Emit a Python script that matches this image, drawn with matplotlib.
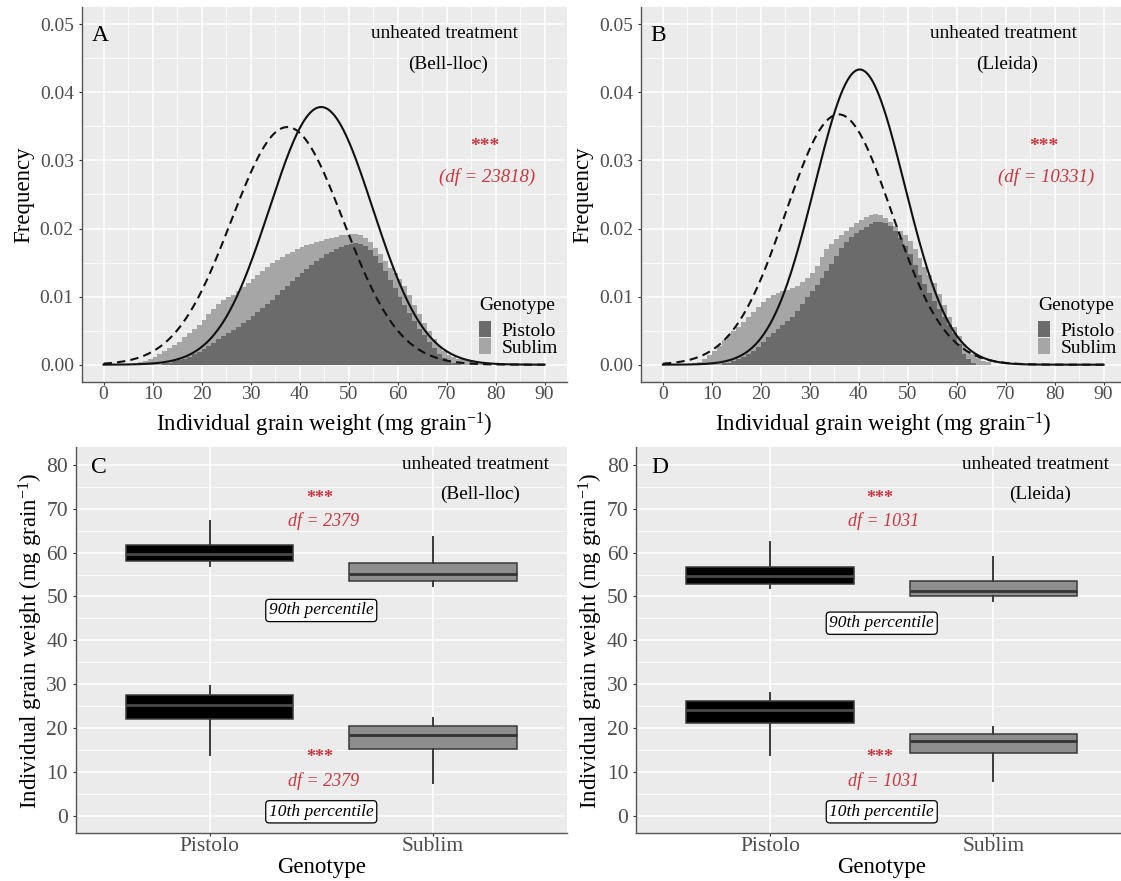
import numpy as np
import matplotlib.pyplot as plt
from matplotlib.patches import Patch

plt.rcParams['font.family'] = ['Liberation Serif', 'DejaVu Serif']
plt.rcParams['mathtext.fontset'] = 'custom'
plt.rcParams['mathtext.rm'] = 'Liberation Serif'
plt.rcParams['mathtext.it'] = 'Liberation Serif:italic'

# ---- grain weight histograms (1 mg bins, left edges 0..79) ----
bin_edges = list(range(80))

bell_pistolo = [
    0, 0, 0, 0, 0, 0, 0, 0, 0, 0,
    0, 0, .0002, .0003, .0005, .0007, .0009, .0012, .0015, .0019,
    .0023, .0027, .0032, .0037, .0042, .0047, .0051, .0056, .0061, .0066,
    .0071, .0077, .0083, .0089, .0095, .0102, .0109, .0116, .0123, .0129,
    .0135, .0140, .0146, .0152, .0157, .0162, .0166, .0170, .0173, .0176,
    .0178, .0179, .0178, .0174, .0168, .0160, .0150, .0138, .0125, .0112,
    .0100, .0088, .0076, .0064, .0053, .0043, .0033, .0024, .0016, .0010,
    .0006, .0003, .0002, 0, 0, 0, 0, 0, 0, 0]
bell_sublim = [
    0, 0, 0, 0, 0, 0, .0002, .0004, .0006, .0009,
    .0012, .0016, .0020, .0024, .0029, .0034, .0040, .0046, .0052, .0059,
    .0066, .0074, .0082, .0089, .0095, .0099, .0103, .0108, .0114, .0120,
    .0126, .0132, .0137, .0143, .0149, .0154, .0158, .0162, .0166, .0170,
    .0173, .0176, .0178, .0180, .0182, .0184, .0186, .0188, .0190, .0191,
    .0192, .0192, .0190, .0186, .0180, .0172, .0162, .0152, .0142, .0134,
    .0126, .0115, .0102, .0088, .0074, .0061, .0049, .0038, .0028, .0020,
    .0014, .0011, .0009, .0008, .0006, .0005, .0003, .0002, 0, 0]
lleida_pistolo = [
    0, 0, 0, 0, 0, 0, 0, 0, 0, 0,
    0, 0, .0002, .0003, .0005, .0008, .0011, .0015, .0020, .0026,
    .0033, .0040, .0046, .0052, .0058, .0064, .0070, .0079, .0089, .0099,
    .0108, .0117, .0127, .0137, .0148, .0160, .0172, .0180, .0187, .0193,
    .0198, .0202, .0206, .0209, .0210, .0208, .0203, .0196, .0186, .0175,
    .0162, .0147, .0132, .0118, .0105, .0094, .0082, .0070, .0058, .0047,
    .0030, .0016, .0008, .0003, 0, 0, 0, 0, 0, 0,
    0, 0, 0, 0, 0, 0, 0, 0, 0, 0]
lleida_sublim = [
    0, 0, 0, 0, 0, 0, .0002, .0004, .0008, .0014,
    .0020, .0028, .0036, .0044, .0050, .0056, .0062, .0070, .0078, .0085,
    .0092, .0098, .0103, .0106, .0108, .0110, .0112, .0116, .0121, .0127,
    .0135, .0145, .0158, .0170, .0178, .0185, .0190, .0196, .0202, .0208,
    .0213, .0217, .0220, .0221, .0220, .0216, .0210, .0203, .0196, .0190,
    .0182, .0170, .0157, .0144, .0132, .0120, .0104, .0087, .0070, .0055,
    .0042, .0030, .0020, .0015, .0010, .0006, .0004, 0, 0, 0,
    0, 0, 0, 0, 0, 0, 0, 0, 0, 0]

# normal fits (mean, sd) per genotype
bell_fit = {'Pistolo': (44.4, 10.54), 'Sublim': (37.5, 11.43)}
lleida_fit = {'Pistolo': (40.2, 9.20), 'Sublim': (35.9, 10.85)}

# ---- 10th / 90th percentile box summaries: (whislo, q1, med, q3, whishi) ----
genotypes = ['Pistolo', 'Sublim']
bell_p90 = [(57.0, 58.1, 59.7, 61.8, 67.1), (52.4, 53.6, 55.1, 57.6, 63.6)]
bell_p10 = [(13.8, 22.0, 25.2, 27.6, 29.6), (7.4, 15.2, 18.3, 20.5, 22.2)]
lleida_p90 = [(51.9, 52.8, 54.6, 56.8, 62.5), (49.0, 50.1, 51.3, 53.5, 58.9)]
lleida_p10 = [(13.8, 21.1, 24.1, 26.1, 27.9), (8.0, 14.4, 17.1, 18.7, 20.2)]

W, H = 1121, 881
fig = plt.figure(figsize=(W / 100, H / 100), dpi=100)


def add_axes_px(x0, x1, y0, y1):
    return fig.add_axes([x0 / W, (H - y1) / H, (x1 - x0) / W, (y1 - y0) / H])


RED = '#c9363f'
PIS_COL = '#6b6b6b'
SUB_COL = '#a6a6a6'


def base_style(ax, tick_size):
    ax.set_facecolor('#ebebeb')
    for s in ['top', 'right']:
        ax.spines[s].set_visible(False)
    for s in ['left', 'bottom']:
        ax.spines[s].set_color('#555555')
        ax.spines[s].set_linewidth(1.0)
    ax.grid(which='major', color='white', lw=1.1)
    ax.grid(which='minor', color='white', lw=0.55)
    ax.set_axisbelow(True)
    ax.tick_params(which='minor', length=0)
    ax.tick_params(which='major', length=2.5, width=0.8, color='#333333',
                   labelcolor='#4d4d4d', labelsize=tick_size)
    ax.tick_params(axis='x', pad=0.5)
    ax.tick_params(axis='y', pad=3)


def hist_panel(ax, letter, site, df, pis, sub, fit):
    base_style(ax, 14)
    ax.bar(bin_edges, sub, width=1, align='edge', color=SUB_COL, linewidth=0)
    ax.bar(bin_edges, pis, width=1, align='edge', color=PIS_COL, linewidth=0)
    xs = np.linspace(0, 90, 600)
    for g, ls in [('Pistolo', '-'), ('Sublim', '--')]:
        m, s = fit[g]
        ys = np.exp(-0.5 * ((xs - m) / s) ** 2) / (s * np.sqrt(2 * np.pi))
        line, = ax.plot(xs, ys, color='#111111', lw=1.5, ls=ls)
        if ls == '--':
            line.set_dashes((4.0, 2.5))
    ax.set_xlim(-4.5, 94.5)
    ax.set_ylim(-0.0025, 0.0525)
    ax.set_xticks(range(0, 91, 10))
    ax.set_xticks(range(5, 90, 10), minor=True)
    ax.set_yticks([0, .01, .02, .03, .04, .05])
    ax.set_yticks([.005, .015, .025, .035, .045], minor=True)
    ax.set_yticklabels(['0.00', '0.01', '0.02', '0.03', '0.04', '0.05'])
    ax.set_xlabel('Individual grain weight (mg grain$^{-1}$)', fontsize=16.5, labelpad=6)
    ax.set_ylabel('Frequency', fontsize=16.5, labelpad=4)
    ax.text(-2.5, 0.0484, letter, fontsize=17, va='center', ha='left')
    ax.text(69.6, 0.0487, 'unheated treatment', fontsize=13.9, ha='center', va='center')
    ax.text(70.3, 0.0441, site, fontsize=13.9, ha='center', va='center')
    ax.text(77.8, 0.0320, '***', fontsize=14, ha='center', va='center',
            color=RED, fontweight='bold')
    ax.text(78.3, 0.0276, '(df = ' + df + ')', fontsize=13.5, ha='center', va='center',
            color=RED, fontstyle='italic')
    handles = [Patch(facecolor=PIS_COL, label='Pistolo'),
               Patch(facecolor=SUB_COL, label='Sublim')]
    leg = ax.legend(handles=handles, title='Genotype', loc='upper left',
                    bbox_to_anchor=(0.82, 0.227), frameon=False, fontsize=14,
                    title_fontsize=14, handlelength=0.6, handleheight=0.85,
                    handletextpad=0.55, labelspacing=-0.08, borderpad=0,
                    borderaxespad=0, alignment='left')
    # gap between the legend title and its entries
    leg._legend_box.sep = 5.5


def box_panel(ax, letter, site, df, p90, p10):
    base_style(ax, 15.5)
    for stats_rows in [p90, p10]:
        for i, row in enumerate(stats_rows):
            lo, q1, med, q3, hi = row
            st = [dict(whislo=lo, q1=q1, med=med, q3=q3, whishi=hi, fliers=[])]
            fc = 'black' if i == 0 else '#8e8e8e'
            mc = '#4a4a4a' if i == 0 else '#333333'
            ax.bxp(st, positions=[i + 1], widths=0.75, showcaps=False,
                   showfliers=False, patch_artist=True, manage_ticks=False,
                   boxprops=dict(facecolor=fc, edgecolor='#3a3a3a', lw=1.1),
                   medianprops=dict(color=mc, lw=2.0),
                   whiskerprops=dict(color='#3a3a3a', lw=1.4))
    ax.set_xlim(0.4, 2.6)
    ax.set_ylim(-4, 84)
    ax.set_xticks([1, 2])
    ax.set_xticklabels(genotypes)
    ax.set_yticks(range(0, 81, 10))
    ax.set_yticks(range(5, 80, 10), minor=True)
    ax.set_xlabel('Genotype', fontsize=16.5)
    ax.xaxis.set_label_coords(0.5, -0.062)
    ax.set_ylabel('Individual grain weight (mg grain$^{-1}$)', fontsize=16.5, labelpad=1)
    ax.text(0.47, 79.3, letter, fontsize=17, va='center', ha='left')
    ax.text(2.19, 80.0, 'unheated treatment', fontsize=13.9, ha='center', va='center')
    ax.text(2.21, 73.2, site, fontsize=13.9, ha='center', va='center')
    lab_y90 = 46.8 if site == '(Bell-lloc)' else 43.9
    for star_y, df_y in [(72.3, 67.1), (13.3, 8.0)]:
        ax.text(1.493, star_y, '***', fontsize=13, ha='center', va='center',
                color=RED, fontweight='bold')
        ax.text(1.509, df_y, 'df = ' + df, fontsize=13, ha='center', va='center',
                color=RED, fontstyle='italic')
    box = dict(boxstyle='round,pad=0.18,rounding_size=0.2', fc='white', ec='black', lw=0.9)
    ax.text(1.50, lab_y90, '90th percentile', fontsize=12.5, ha='center', va='center',
            fontstyle='italic', bbox=box)
    ax.text(1.50, 0.9, '10th percentile', fontsize=12.5, ha='center', va='center',
            fontstyle='italic', bbox=box)


ax_a = add_axes_px(81.5, 566.6, 7.3, 381.7)
ax_b = add_axes_px(640.9, 1125.6, 7.3, 381.7)
ax_c = add_axes_px(75.6, 566.9, 447.3, 833.3)
ax_d = add_axes_px(636.1, 1127.4, 447.3, 833.3)

hist_panel(ax_a, 'A', '(Bell-lloc)', '23818', bell_pistolo, bell_sublim, bell_fit)
hist_panel(ax_b, 'B', '(Lleida)', '10331', lleida_pistolo, lleida_sublim, lleida_fit)
box_panel(ax_c, 'C', '(Bell-lloc)', '2379', bell_p90, bell_p10)
box_panel(ax_d, 'D', '(Lleida)', '1031', lleida_p90, lleida_p10)

fig.savefig('out.png', dpi=100)
